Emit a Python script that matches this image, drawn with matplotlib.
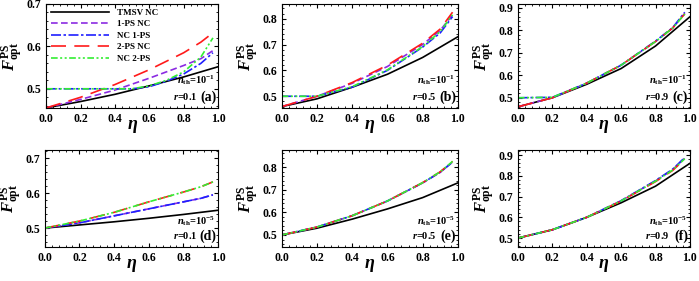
import matplotlib.pyplot as plt
from matplotlib.ticker import MultipleLocator, FormatStrFormatter

plt.rcParams['font.family'] = 'Liberation Serif'
plt.rcParams['font.weight'] = 'bold'
plt.rcParams['mathtext.fontset'] = 'custom'
plt.rcParams['mathtext.rm'] = 'Liberation Serif:bold'
plt.rcParams['mathtext.it'] = 'Liberation Serif:bold:italic'
plt.rcParams['mathtext.bf'] = 'Liberation Serif:bold'

# eta grids
eta_full = [0.0, 0.2, 0.4, 0.6, 0.8, 1.0]
eta_ps = [0.0, 0.2, 0.4, 0.6, 0.8, 0.9, 0.97]
eta_flat = [0.0, 0.2, 0.4, 0.5, 0.6, 0.7, 0.8, 0.9, 0.97]

# panel (a): n_th=1e-1, r=0.1
a_tmsv = [0.455, 0.470, 0.487, 0.507, 0.528, 0.552]
a_1ps_nc = [0.455, 0.475, 0.497, 0.525, 0.555, 0.571, 0.590]
a_nc_1ps = [0.500, 0.500, 0.500, 0.500, 0.505, 0.518, 0.535, 0.560, 0.585]
a_2ps_nc = [0.455, 0.480, 0.510, 0.545, 0.585, 0.610, 0.632]
a_nc_2ps = [0.500, 0.500, 0.500, 0.500, 0.507, 0.520, 0.540, 0.575, 0.620]

# panel (b): n_th=1e-1, r=0.5
b_tmsv = [0.460, 0.490, 0.535, 0.585, 0.650, 0.730]
b_1ps_nc = [0.460, 0.500, 0.550, 0.615, 0.700, 0.755, 0.815]
b_nc_1ps = [0.500, 0.500, 0.535, 0.600, 0.690, 0.745, 0.808]
b_2ps_nc = [0.460, 0.500, 0.553, 0.620, 0.705, 0.760, 0.825]
b_nc_2ps = [0.500, 0.500, 0.537, 0.602, 0.692, 0.750, 0.815]

# panel (c): n_th=1e-1, r=0.9
c_tmsv = [0.460, 0.500, 0.560, 0.630, 0.730, 0.860]
c_1ps_nc = [0.460, 0.500, 0.565, 0.645, 0.750, 0.810, 0.875]
c_nc_1ps = [0.500, 0.502, 0.565, 0.645, 0.752, 0.812, 0.880]
c_2ps_nc = [0.460, 0.500, 0.565, 0.645, 0.750, 0.810, 0.873]
c_nc_2ps = [0.500, 0.502, 0.565, 0.645, 0.750, 0.810, 0.872]

# panel (d): n_th=1e-5, r=0.1
d_tmsv = [0.500, 0.509, 0.518, 0.528, 0.539, 0.551]
d_1ps_nc = [0.500, 0.515, 0.535, 0.555, 0.575, 0.585, 0.595]
d_nc_1ps = [0.500, 0.515, 0.535, 0.555, 0.575, 0.585, 0.595]
d_2ps_nc = [0.500, 0.520, 0.545, 0.575, 0.603, 0.618, 0.632]
d_nc_2ps = [0.500, 0.520, 0.545, 0.575, 0.603, 0.618, 0.632]

# panel (e): n_th=1e-5, r=0.5
e_tmsv = [0.500, 0.530, 0.570, 0.615, 0.665, 0.730]
e_1ps_nc = [0.500, 0.535, 0.585, 0.650, 0.730, 0.777, 0.822]
e_nc_1ps = [0.500, 0.535, 0.585, 0.650, 0.730, 0.777, 0.822]
e_2ps_nc = [0.500, 0.535, 0.585, 0.650, 0.731, 0.779, 0.825]
e_nc_2ps = [0.500, 0.535, 0.585, 0.650, 0.731, 0.779, 0.825]

# panel (f): n_th=1e-5, r=0.9
f_tmsv = [0.500, 0.540, 0.600, 0.670, 0.750, 0.860]
f_1ps_nc = [0.500, 0.540, 0.600, 0.680, 0.775, 0.830, 0.885]
f_nc_1ps = [0.500, 0.540, 0.600, 0.680, 0.777, 0.832, 0.888]
f_2ps_nc = [0.500, 0.540, 0.600, 0.678, 0.772, 0.826, 0.880]
f_nc_2ps = [0.500, 0.540, 0.600, 0.679, 0.774, 0.828, 0.882]

panels = [
    ('a', '-1', '0.1', (0.455, 0.70), [a_tmsv, a_1ps_nc, a_nc_1ps, a_2ps_nc, a_nc_2ps]),
    ('b', '-1', '0.5', (0.455, 0.857), [b_tmsv, b_1ps_nc, b_nc_1ps, b_2ps_nc, b_nc_2ps]),
    ('c', '-1', '0.9', (0.455, 0.917), [c_tmsv, c_1ps_nc, c_nc_1ps, c_2ps_nc, c_nc_2ps]),
    ('d', '-5', '0.1', (0.446, 0.723), [d_tmsv, d_1ps_nc, d_nc_1ps, d_2ps_nc, d_nc_2ps]),
    ('e', '-5', '0.5', (0.447, 0.875), [e_tmsv, e_1ps_nc, e_nc_1ps, e_2ps_nc, e_nc_2ps]),
    ('f', '-5', '0.9', (0.457, 0.924), [f_tmsv, f_1ps_nc, f_nc_1ps, f_2ps_nc, f_nc_2ps]),
]

labels = ['TMSV NC', '1-PS NC', 'NC 1-PS', '2-PS NC', 'NC 2-PS']
colors = ['black', '#8b2be2', '#1f1fff', '#ff1a1a', '#33ee33']
dashes = [None, (4, 2), (6, 1.5, 1.5, 1.5), (9, 5), (4, 1.5, 1.2, 1.5, 1.2, 1.5)]

# axes boxes [left, bottom, width, height] in figure fraction
boxes = [
    [0.066, 0.616, 0.246, 0.370],
    [0.403, 0.616, 0.252, 0.370],
    [0.741, 0.616, 0.246, 0.370],
    [0.064, 0.121, 0.248, 0.345],
    [0.403, 0.121, 0.252, 0.345],
    [0.741, 0.121, 0.246, 0.345],
]

fig = plt.figure(figsize=(6.99, 2.81), dpi=100)

for box, (tag, nth, r, ylim, curves) in zip(boxes, panels):
    ax = fig.add_axes(box)
    for i, y in enumerate(curves):
        if i == 0:
            x = eta_full
        elif tag == 'a' and i in (2, 4):
            x = eta_flat
        else:
            x = eta_ps
        line, = ax.plot(x, y, color=colors[i], linewidth=1.2, label=labels[i])
        if dashes[i] is not None:
            line.set_dashes(dashes[i])
    ax.set_xlim(0, 1)
    ax.set_ylim(*ylim)
    ax.xaxis.set_major_locator(MultipleLocator(0.2))
    ax.xaxis.set_minor_locator(MultipleLocator(0.04))
    ax.yaxis.set_major_locator(MultipleLocator(0.1))
    ax.yaxis.set_minor_locator(MultipleLocator(0.02))
    ax.xaxis.set_major_formatter(FormatStrFormatter('%.1f'))
    ax.yaxis.set_major_formatter(FormatStrFormatter('%.1f'))
    ax.tick_params(which='both', direction='in', top=True, right=True, labelsize=8.5)
    ax.tick_params(which='major', length=3, width=0.8)
    ax.tick_params(which='minor', length=1.5, width=0.6)
    ax.set_xlabel(r'$\eta$', fontsize=13, labelpad=-5)
    ax.set_ylabel(r'$F^{\rm PS}_{\rm opt}$', fontsize=12)
    ax.yaxis.set_label_coords(-0.12, 0.5)
    ax.text(0.985, 0.2, r'$n_{\rm th}$=10$^{' + nth + '}$', transform=ax.transAxes,
            ha='right', va='bottom', fontsize=7.5)
    ax.text(0.88, 0.06, r'$r$=' + r, transform=ax.transAxes,
            ha='right', va='bottom', fontsize=7.5)
    ax.text(0.99, 0.04, '(' + tag + ')', transform=ax.transAxes,
            ha='right', va='bottom', fontsize=10)
    if tag == 'a':
        ax.legend(loc='upper left', fontsize=6.5, frameon=False, handlelength=6.5,
                  borderaxespad=0.1, labelspacing=0.35, handletextpad=0.8)

fig.savefig('out.png', dpi=100)
